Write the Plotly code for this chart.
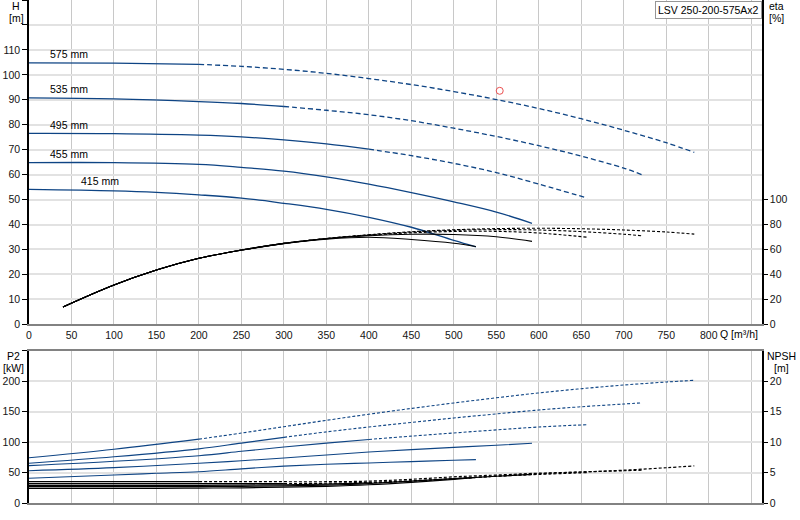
import plotly.graph_objects as go

title_box = 'LSV 250-200-575Ax2'
diam_labels = ['575 mm', '535 mm', '495 mm', '455 mm', '415 mm']

# flow grid per impeller diameter [m3/h] (H, P2, NPSH share it)
q_575 = [0, 100, 200, 250, 300, 350, 400, 450, 500, 550, 600, 650, 700, 750, 783]
q_535 = [0, 100, 200, 250, 300, 350, 400, 450, 500, 550, 600, 650, 700, 721]
q_495 = [0, 100, 200, 250, 300, 350, 400, 450, 500, 550, 600, 657]
q_455 = [0, 100, 200, 250, 300, 350, 400, 450, 500, 550, 592]
q_415 = [0, 100, 150, 200, 250, 300, 350, 400, 450, 500, 526]

# head H [m]
h_575 = [104.8, 104.7, 104.2, 103.4, 102.2, 100.6, 98.5, 96.1, 93.3, 90.1, 86.5, 82.4, 77.8, 72.8, 68.9]
h_535 = [90.8, 90.4, 89.3, 88.5, 87.3, 85.8, 84.0, 81.6, 78.6, 75.3, 71.6, 67.4, 62.6, 60.0]
h_495 = [76.5, 76.4, 75.8, 75.1, 73.9, 72.3, 70.2, 67.6, 64.5, 60.8, 56.2, 50.6]
h_455 = [64.8, 64.8, 64.1, 62.9, 61.4, 59.1, 56.2, 52.8, 49.1, 45.0, 40.5]
h_415 = [54.1, 53.5, 52.9, 51.9, 50.6, 48.5, 46.1, 42.9, 38.9, 33.6, 31.0]

# shaft power P2 [kW]
p2_575 = [74.5, 88.5, 105, 115, 125.5, 136, 146, 155.5, 164.5, 173, 181, 188, 194, 199, 201.8]
p2_535 = [65.3, 76.0, 89.0, 98.5, 108, 117, 125, 132.5, 139.8, 146.5, 153, 158.3, 162.8, 164.7]
p2_495 = [61.4, 68.6, 77.8, 85, 92, 98.5, 104.5, 110, 115.2, 120.2, 125, 128.8]
p2_455 = [53.1, 58.1, 65.3, 69.5, 74, 79, 83.8, 87.8, 91.5, 95, 98.2]
p2_415 = [40.6, 46, 48.8, 51.5, 56.2, 60.6, 63.7, 65.9, 68.1, 70.2, 71.3]

# NPSH [m]
npsh_575 = [3.5, 3.5, 3.5, 3.5, 3.5, 3.5, 3.6, 3.9, 4.3, 4.6, 4.9, 5.1, 5.4, 5.8, 6.1]
npsh_535 = [3.2, 3.2, 3.2, 3.2, 3.2, 3.25, 3.4, 3.65, 4.0, 4.4, 4.8, 5.1, 5.3, 5.4]
npsh_495 = [2.9, 2.9, 2.9, 2.95, 3.0, 3.1, 3.3, 3.6, 4.0, 4.4, 4.7, 5.0]
npsh_455 = [2.7, 2.7, 2.7, 2.75, 2.8, 2.95, 3.2, 3.6, 4.0, 4.4, 4.7]
npsh_415 = [2.4, 2.4, 2.4, 2.45, 2.5, 2.6, 2.75, 3.0, 3.4, 3.9, 4.2]

# efficiency eta [%]
q_eta_575 = [40, 100, 150, 200, 250, 300, 350, 400, 450, 500, 550, 600, 650, 700, 750, 783]
eta_575 = [13.9, 31.5, 43.5, 52.9, 59.5, 64.9, 68.8, 71.8, 74.2, 75.8, 76.7, 77.0, 76.6, 75.6, 74.0, 72.3]
q_eta_535 = [40, 100, 150, 200, 250, 300, 350, 400, 450, 500, 550, 600, 650, 700, 721]
eta_535 = [13.9, 31.5, 43.5, 52.9, 59.5, 64.9, 68.8, 71.7, 73.9, 75.3, 75.9, 75.6, 74.3, 72.2, 71.0]
q_eta_495 = [40, 100, 150, 200, 250, 300, 350, 400, 450, 500, 550, 600, 657]
eta_495 = [13.9, 31.5, 43.5, 52.9, 59.5, 64.9, 68.7, 71.4, 73.3, 74.4, 74.5, 73.2, 69.8]
q_eta_455 = [40, 100, 150, 200, 250, 300, 350, 400, 450, 500, 550, 592]
eta_455 = [13.9, 31.5, 43.5, 52.9, 59.5, 64.9, 68.6, 71.0, 72.2, 72.0, 70.2, 66.5]
q_eta_415 = [40, 100, 150, 200, 250, 300, 350, 400, 450, 500, 526]
eta_415 = [13.9, 31.5, 43.5, 52.9, 59.4, 64.6, 68.2, 69.8, 68.0, 65.0, 62.3]

# flow where each curve turns dashed (None = solid all the way)
dash_from = [200, 300, 400, None, None]

# duty point
duty_q = [554]
duty_h = [93.6]

q_ticks = list(range(0, 851, 50))

blue = 'rgb(14,68,132)'
black = 'rgb(0,0,0)'
grid_v = 'rgb(200,200,200)'
grid_h = 'rgb(226,226,226)'
font_fam = 'Liberation Sans, Arial, sans-serif'

q_all = [q_575, q_535, q_495, q_455, q_415]
h_all = [h_575, h_535, h_495, h_455, h_415]
p2_all = [p2_575, p2_535, p2_495, p2_455, p2_415]
npsh_all = [npsh_575, npsh_535, npsh_495, npsh_455, npsh_415]
qe_all = [q_eta_575, q_eta_535, q_eta_495, q_eta_455, q_eta_415]
eta_all = [eta_575, eta_535, eta_495, eta_455, eta_415]

fig = go.Figure()


def add_curve(q, v, split, color, width, dash, xa, ya):
    parts = []
    if split is None:
        parts.append((q, v, 'solid'))
    else:
        i = q.index(split)
        parts.append((q[:i + 1], v[:i + 1], 'solid'))
        parts.append((q[i:], v[i:], dash))
    for qq, vv, d in parts:
        fig.add_trace(go.Scatter(x=qq, y=vv, mode='lines', xaxis=xa, yaxis=ya,
                                 line=dict(color=color, width=width, dash=d, shape='spline'),
                                 hoverinfo='skip', showlegend=False))


for k in range(5):
    add_curve(qe_all[k], eta_all[k], dash_from[k], black, 1.1, '3px,2px', 'x', 'y2')
for k in range(5):
    add_curve(q_all[k], h_all[k], dash_from[k], blue, 1.3, '5px,3px', 'x', 'y')
for k in range(5):
    add_curve(q_all[k], p2_all[k], dash_from[k], blue, 1.1, '3px,2px', 'x2', 'y3')
for k in range(5):
    add_curve(q_all[k], npsh_all[k], dash_from[k], black, 1.2, '3px,2px', 'x2', 'y4')

fig.add_trace(go.Scatter(x=duty_q, y=duty_h, mode='markers', xaxis='x', yaxis='y',
                         marker=dict(symbol='circle-open', size=7, color='rgb(235,80,80)',
                                     line=dict(width=1)),
                         hoverinfo='skip', showlegend=False))

# pixel -> paper helpers (plot area 29..762 x, 0..503 y)
def px_x(p):
    return (p - 29) / 733.0


def px_y(p):
    return (503 - p) / 503.0


tickfont = dict(family=font_fam, size=10.5, color='rgb(20,20,20)')

xcommon = dict(range=[0, 862.7], tickvals=q_ticks, showgrid=True, gridcolor=grid_v, gridwidth=1,
               showline=True, linecolor='rgb(130,130,130)', linewidth=2, mirror=True,
               zeroline=False, ticks='', fixedrange=True)

fig.update_layout(
    width=800, height=520,
    margin=dict(l=29, r=38, t=0, b=17, autoexpand=False),
    paper_bgcolor='white', plot_bgcolor='white',
    showlegend=False,
    font=dict(family=font_fam, size=10.5, color='rgb(20,20,20)'),
    xaxis=dict(xcommon, domain=[0, 1], anchor='y',
               ticktext=[str(t) if t <= 800 else '' for t in q_ticks], tickfont=tickfont),
    xaxis2=dict(xcommon, domain=[0, 1], anchor='y3', showticklabels=False),
    yaxis=dict(domain=[0.3553, 1], range=[0, 130], tickvals=list(range(0, 131, 10)),
               ticktext=[str(t) if t <= 110 else '' for t in range(0, 131, 10)],
               ticks='outside', ticklen=5, tickcolor=black, showline=True, linecolor=black,
               linewidth=1.5, showgrid=True, gridcolor=grid_h, gridwidth=2, zeroline=False,
               tickfont=tickfont, anchor='x'),
    yaxis2=dict(overlaying='y', side='right', range=[0, 260], tickvals=list(range(0, 101, 20)),
                ticks='outside', ticklen=4, tickcolor=black, showline=True, linecolor=black,
                linewidth=1.5, showgrid=False, zeroline=False, tickfont=tickfont, anchor='x'),
    yaxis3=dict(domain=[0, 0.3022], range=[0, 250], tickvals=list(range(0, 251, 50)),
                ticktext=[str(t) if t <= 200 else '' for t in range(0, 251, 50)],
                ticks='outside', ticklen=5, tickcolor=black, showline=True, linecolor=black,
                linewidth=1.5, showgrid=True, gridcolor=grid_h, gridwidth=2, zeroline=False,
                tickfont=tickfont, anchor='x2'),
    yaxis4=dict(overlaying='y3', side='right', range=[0, 25], tickvals=list(range(0, 21, 5)),
                ticks='outside', ticklen=4, tickcolor=black, showline=True, linecolor=black,
                linewidth=1.5, showgrid=False, zeroline=False, tickfont=tickfont, anchor='x2'),
)

annotations = []

# diameter labels above each head curve
label_q = [22, 22, 22, 22, 59]
for k in range(5):
    annotations.append(dict(xref='x', yref='y', x=label_q[k], y=h_all[k][0] + 3.4,
                            xanchor='left', yanchor='middle', text=diam_labels[k],
                            showarrow=False, font=dict(family=font_fam, size=10.5, color=black)))

# axis titles
for txt, xp, yp in [('H', 16, 6), ('[m]', 16, 18), ('eta', 776, 6), ('[%]', 776, 18),
                    ('P2', 14, 356), ('[kW]', 14, 368), ('NPSH', 781, 356), ('[m]', 781, 368)]:
    annotations.append(dict(xref='paper', yref='paper', x=px_x(xp), y=px_y(yp),
                            xanchor='center', yanchor='middle', text=txt, showarrow=False,
                            font=dict(family=font_fam, size=10.5, color=black)))

annotations.append(dict(xref='paper', yref='paper', x=px_x(718), y=px_y(334),
                        xanchor='left', yanchor='middle', text='Q [m³/h]', showarrow=False,
                        font=dict(family=font_fam, size=10.5, color=black)))

# pump type box
annotations.append(dict(xref='paper', yref='paper', x=1, y=px_y(1),
                        xanchor='right', yanchor='top', text=title_box, showarrow=False,
                        bgcolor='white', bordercolor='rgb(150,150,150)', borderwidth=1, borderpad=2,
                        font=dict(family=font_fam, size=10.5, color=black)))

fig.update_layout(annotations=annotations)

# drop the default page margin so the figure sits at the window's corner
fig.write_html('out.html', config={'displayModeBar': False},
               post_script="document.body.style.margin='0';")
